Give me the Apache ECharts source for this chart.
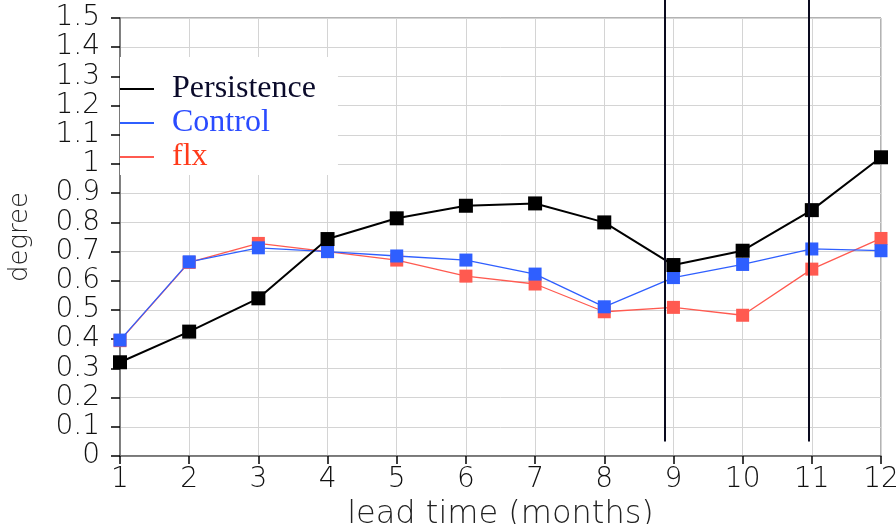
<!DOCTYPE html>
<html>
<head>
<meta charset="utf-8">
<script src="https://cdn.jsdelivr.net/npm/echarts@6/dist/echarts.min.js"></script>
<style>
  html, body { margin: 0; padding: 0; background: #fff; }
  #main { width: 896px; height: 524px; }
</style>
</head>
<body>
<div id="main"></div>
<script>
// lead time (months)
const months = [1, 2, 3, 4, 5, 6, 7, 8, 9, 10, 11, 12];
const persistence = [0.321, 0.426, 0.540, 0.743, 0.814, 0.857, 0.865, 0.800, 0.654, 0.703, 0.842, 1.023];
const control = [0.397, 0.665, 0.713, 0.700, 0.685, 0.671, 0.623, 0.511, 0.611, 0.656, 0.709, 0.703];
const flx = [0.395, 0.663, 0.728, 0.700, 0.671, 0.616, 0.589, 0.494, 0.509, 0.482, 0.640, 0.745];
// vertical marker lines (x position in months)
const markX = [8.88, 10.96];

const pairs = arr => months.map((m, i) => [m, arr[i]]);

const chart = echarts.init(document.getElementById('main'));

const axisFont = "'DejaVu Sans ExtraLight', 'DejaVu Sans'";

chart.setOption({
  backgroundColor: '#fff',
  animation: false,
  grid: [
    { left: 120, right: 15, top: 18, bottom: 68, show: true, borderColor: '#666', borderWidth: 1, outerBoundsMode: 'none', containLabel: false },
    { left: 120, right: 15, top: 0, bottom: 68, outerBoundsMode: 'none', containLabel: false }
  ],
  legend: {
    orient: 'vertical',
    left: 120,
    top: 57,
    padding: [16, 22, 2, 0],
    itemGap: 2,
    itemWidth: 47,
    itemHeight: 2,
    icon: 'path://M0,0L34,0L34,2L0,2Z M47,2',
    backgroundColor: '#fff',
    textStyle: { fontFamily: 'Liberation Serif', fontSize: 32 },
    data: [
      { name: 'Persistence', textStyle: { color: '#0a0a2a' } },
      { name: 'Control', textStyle: { color: '#2a4bff' } },
      { name: 'flx', textStyle: { color: '#ff3a1a' } }
    ]
  },
  xAxis: [{
    type: 'value',
    min: 1,
    max: 12,
    interval: 1,
    name: 'lead time (months)',
    nameLocation: 'middle',
    nameGap: 40,
    nameTextStyle: { fontFamily: axisFont, fontWeight: 200, fontSize: 32, color: '#222' },
    axisLine: { lineStyle: { color: '#666', width: 1.5 } },
    axisTick: { length: 8, lineStyle: { color: '#000', width: 1.5 } },
    axisLabel: { margin: 10, fontFamily: axisFont, fontWeight: 200, fontSize: 28, color: '#111' },
    splitLine: { lineStyle: { color: '#d4d4d4' } }
  }, {
    type: 'value', gridIndex: 1, min: 1, max: 12, show: false
  }],
  yAxis: [{
    type: 'value',
    min: 0,
    max: 1.5,
    interval: 0.1,
    name: 'degree',
    nameLocation: 'middle',
    nameRotate: 90,
    nameGap: 87,
    nameTextStyle: { fontFamily: axisFont, fontWeight: 200, fontSize: 26, color: '#222' },
    axisLine: { show: true, lineStyle: { color: '#666', width: 1.5 } },
    axisTick: { show: true, length: 9, lineStyle: { color: '#000', width: 1.5 } },
    axisLabel: {
      margin: 20,
      fontFamily: axisFont,
      fontWeight: 200,
      fontSize: 28,
      color: '#111',
      formatter: v => String(+v.toFixed(1))
    },
    splitLine: { lineStyle: { color: '#d4d4d4' } }
  }, {
    type: 'value', gridIndex: 1, min: 0, max: 1.5616, show: false
  }],
  series: [
    {
      name: 'flx',
      type: 'line',
      data: pairs(flx),
      color: '#ff5a50',
      symbol: 'rect',
      symbolSize: 13,
      lineStyle: { width: 1.3 },
      itemStyle: { opacity: 1 }
    },
    {
      name: 'Control',
      type: 'line',
      data: pairs(control),
      color: '#2f5fff',
      symbol: 'rect',
      symbolSize: 13,
      lineStyle: { width: 1.3 },
      itemStyle: { opacity: 1 }
    },
    {
      name: 'Persistence',
      type: 'line',
      data: pairs(persistence),
      color: '#000',
      symbol: 'rect',
      symbolSize: 14,
      lineStyle: { width: 2 },
      itemStyle: { opacity: 1 }
    },
    {
      name: 'marks',
      type: 'line',
      xAxisIndex: 1,
      yAxisIndex: 1,
      data: [],
      markLine: {
        silent: true,
        symbol: 'none',
        label: { show: false },
        lineStyle: { color: '#0a0a1e', width: 2, type: 'solid' },
        data: markX.map(x => [{ coord: [x, 0.05] }, { coord: [x, 1.5616] }])
      }
    }
  ]
});
</script>
</body>
</html>
